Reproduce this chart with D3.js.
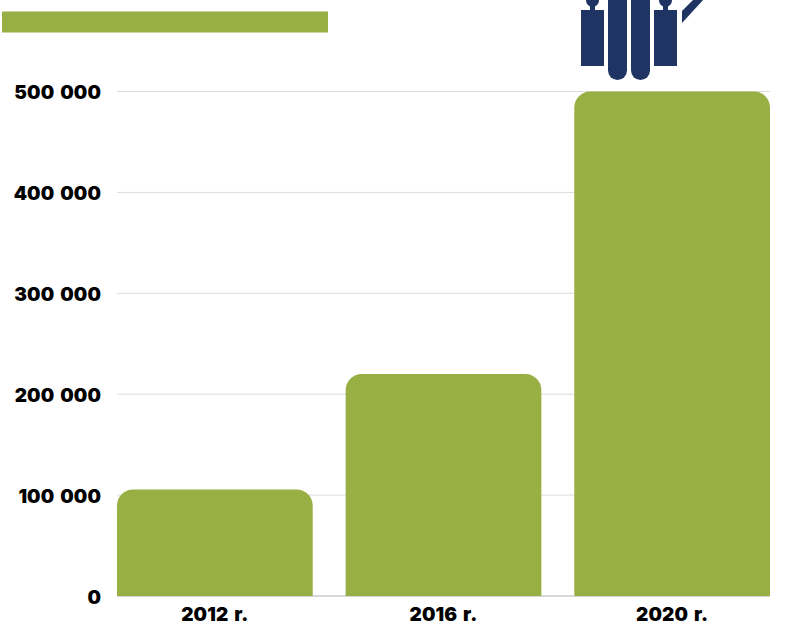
<!DOCTYPE html>
<html>
<head>
<meta charset="utf-8">
<script src="https://cdn.jsdelivr.net/npm/d3@7"></script>
<style>
  html, body { margin: 0; padding: 0; background: #fff; overflow: hidden; }
  .tick text { font-family: "Inter", "Open Sans", sans-serif; font-weight: 900; fill: #000; letter-spacing: 0.1px; word-spacing: 2px; }
</style>
</head>
<body>
<div id="chart"></div>
<script>
const years = ["2012 r.", "2016 r.", "2020 r."];
const values = [105500, 220000, 500000];
const yTicks = [0, 100000, 200000, 300000, 400000, 500000];

const svg = d3.select("#chart")
    .append("svg")
    .attr("width", 796)
    .attr("height", 627)
    .style("display", "block");

const margin = { top: 91.5, right: 26, bottom: 31, left: 117 };
const width = 796 - margin.left - margin.right;
const height = 627 - margin.top - margin.bottom;

const x = d3.scaleBand()
    .domain(years)
    .range([margin.left, margin.left + width])
    .paddingInner(0.144)
    .paddingOuter(0);

const y = d3.scaleLinear()
    .domain([0, 500000])
    .range([margin.top + height, margin.top]);

const spaced = d => d3.format(",")(d).replace(/,/g, " ");

// gridlines
svg.append("g")
    .selectAll("line")
    .data(yTicks)
    .enter().append("line")
    .attr("x1", margin.left)
    .attr("x2", margin.left + width)
    .attr("y1", d => y(d))
    .attr("y2", d => y(d))
    .attr("stroke", d => d === 0 ? "#b0b0b0" : "#dcdcdc")
    .attr("stroke-width", 1);

// bars, top corners rounded only
const r = 16;
svg.append("g")
    .selectAll("path")
    .data(values)
    .enter().append("path")
    .attr("fill", "#98b043")
    .attr("d", function(d, i) {
        const x0 = x(years[i]);
        const x1 = x0 + x.bandwidth();
        const top = y(d);
        const bottom = y(0);
        return "M" + x0 + "," + bottom +
            "V" + (top + r) +
            "A" + r + "," + r + " 0 0 1 " + (x0 + r) + "," + top +
            "H" + (x1 - r) +
            "A" + r + "," + r + " 0 0 1 " + x1 + "," + (top + r) +
            "V" + bottom + "Z";
    });

// Y axis
const yAxis = svg.append("g")
    .attr("transform", "translate(" + margin.left + ",0)")
    .call(d3.axisLeft(y).tickValues(yTicks).tickFormat(spaced).tickSize(0).tickPadding(16));
yAxis.select(".domain").remove();
yAxis.selectAll("text").style("font-size", "19px").attr("dy", "0.37em");

// X axis
const xAxis = svg.append("g")
    .attr("transform", "translate(0," + y(0) + ")")
    .call(d3.axisBottom(x).tickSize(0).tickPadding(12));
xAxis.select(".domain").remove();
xAxis.selectAll("text").style("font-size", "19px");

// legend swatch
svg.append("rect")
    .attr("x", 2)
    .attr("y", 11.5)
    .attr("width", 326)
    .attr("height", 21)
    .attr("fill", "#98b043");

// icon cropped by the top edge
const icon = svg.append("g").attr("fill", "#203464");
[581, 654].forEach(function(px) {
    icon.append("rect").attr("x", px).attr("y", 10).attr("width", 23).attr("height", 56);
    icon.append("rect").attr("x", px + 9).attr("y", 4).attr("width", 5).attr("height", 7);
    icon.append("circle").attr("cx", px + 11.5).attr("cy", 0.5).attr("r", 6.5);
});
[608, 631].forEach(function(px) {
    icon.append("rect").attr("x", px).attr("y", -20).attr("width", 19).attr("height", 100).attr("rx", 9.5);
});
icon.append("polygon").attr("points", "682,11 693,0 704,-1 682,23");
</script>
</body>
</html>
